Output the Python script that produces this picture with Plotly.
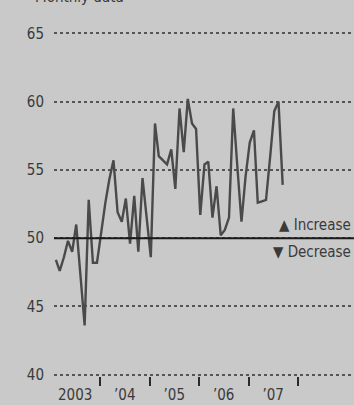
import pandas as pd
import plotly.graph_objects as go

# Monthly index values, Feb 2003 - Sep 2007
start = pd.Timestamp("2003-02-01")
months = [start + pd.DateOffset(months=k) + pd.Timedelta(days=9) for k in range(56)]
values = [48.4, 47.6, 48.6, 49.8, 49.0, 51.0, 47.3, 43.6, 52.8, 48.2, 48.2, 50.6, 52.6, 54.3, 55.7,
          51.9, 51.2, 52.9, 49.6, 53.1, 49.0, 54.4, 51.5, 48.6, 58.4, 56.0, 55.7, 55.4, 56.5, 53.6,
          59.5, 56.3, 60.2, 58.4, 58.0, 51.7, 55.4, 55.6, 51.5, 53.8, 50.2, 50.6, 51.5, 59.5, 55.3,
          51.2, 54.5, 57.0, 57.9, 52.6, 52.7, 52.8, 56.0, 59.3, 60.0, 53.9]

year_label_dates = ["2003-07-02", "2004-07-02", "2005-07-02", "2006-07-02", "2007-07-02"]
year_labels = ["2003", "’04", "’05", "’06", "’07"]
year_bounds = ["2004-01-01", "2005-01-01", "2006-01-01", "2007-01-01", "2008-01-01"]
y_ticks = [40, 45, 50, 55, 60, 65]

FONT = "DejaVu Sans Condensed, Liberation Sans Narrow, sans-serif"
TXT = "#3a3a3a"
BG = "#c9c9c9"

fig = go.Figure()
fig.add_trace(go.Scatter(x=months, y=values, mode="lines",
                         line=dict(color="#4a4a4a", width=2.4), hoverinfo="skip"))

fig.add_hline(y=50, line=dict(color="#1a1a1a", width=2))

fig.add_annotation(text="▲ Increase", xref="paper", x=0.995, xanchor="right",
                   yref="y", y=50.95, showarrow=False,
                   font=dict(family=FONT, size=15, color=TXT))
fig.add_annotation(text="▼ Decrease", xref="paper", x=0.995, xanchor="right",
                   yref="y", y=48.98, showarrow=False,
                   font=dict(family=FONT, size=15, color=TXT))
fig.add_annotation(text="Monthly data", xref="paper", x=-0.07, xanchor="left",
                   yref="paper", y=1.103, yanchor="middle", showarrow=False,
                   font=dict(family=FONT, size=15, color=TXT))

fig.update_layout(
    width=354, height=405,
    margin=dict(l=54, r=0, t=32, b=29),
    paper_bgcolor=BG, plot_bgcolor=BG,
    showlegend=False,
    font=dict(family=FONT, size=15, color=TXT),
    xaxis=dict(
        range=["2003-01-27", "2009-02-17"],
        tickvals=year_label_dates, ticktext=year_labels,
        ticks="outside", ticklen=5, tickcolor="rgba(0,0,0,0)",
        showgrid=False, zeroline=False, showline=False,
        minor=dict(tickvals=year_bounds, ticks="outside", ticklen=9,
                   tickwidth=2, tickcolor="#2a2a2a", showgrid=False),
        tickfont=dict(family=FONT, size=15, color=TXT),
    ),
    yaxis=dict(
        range=[39.9, 65.1], tickvals=y_ticks,
        showgrid=True, gridcolor="#555555", griddash="dot", gridwidth=1.6,
        zeroline=False, showline=False, ticks="",
        ticklabelstandoff=9,
        tickfont=dict(family=FONT, size=15, color=TXT),
    ),
)

fig.write_html("out.html", config={"displayModeBar": False},
               post_script="document.body.style.margin='0';document.body.style.background='#c9c9c9';")
